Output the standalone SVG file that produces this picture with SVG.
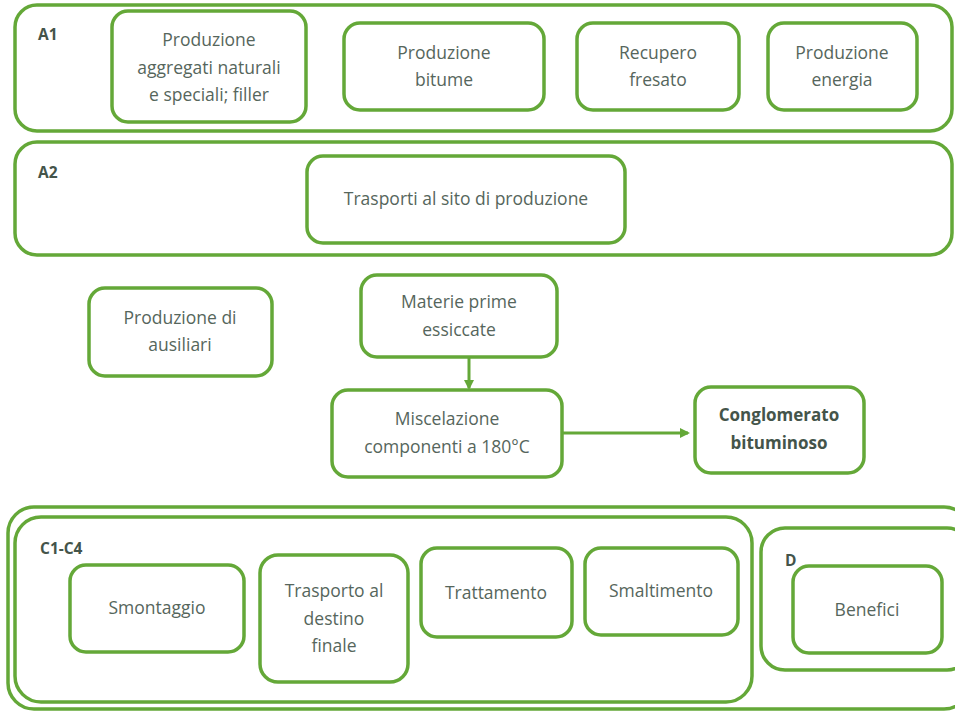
<svg xmlns="http://www.w3.org/2000/svg" width="955" height="711" viewBox="0 0 955 711">
<defs>
<style>
.box{fill:#fff;stroke:#64a838;stroke-width:3.5}
.frame{fill:none;stroke:#64a838;stroke-width:3.5}
.t{font-family:"Open Sans","Liberation Sans",Arial,sans-serif;font-size:17.5px;fill:#56665c;text-anchor:middle}
.lbl{font-family:"Open Sans","Liberation Sans",Arial,sans-serif;font-size:15.5px;font-weight:bold;fill:#44544a}
.b{font-weight:bold;fill:#44544a;font-size:17px}
.c{stroke:#64a838;stroke-width:3;fill:none}
</style>
<marker id="ah" markerWidth="10" markerHeight="10" refX="8" refY="5" orient="auto" markerUnits="userSpaceOnUse">
<path d="M0,0 L10,5 L0,10 Z" fill="#64a838"/>
</marker>
</defs>
<rect width="955" height="711" fill="#fff"/>
<g id="A1">
<rect class="frame" x="15" y="5" width="937" height="126" rx="22"/>
<text class="lbl" x="38" y="40">A1</text>
</g>
<g id="A2">
<rect class="frame" x="15" y="142" width="937" height="113" rx="22"/>
<text class="lbl" x="38" y="178">A2</text>
</g>
<g id="outerC">
<rect class="frame" x="8" y="507" width="962" height="202" rx="26"/>
</g>
<g id="C1C4">
<rect class="frame" x="15" y="517" width="737" height="185" rx="26"/>
<text class="lbl" x="40" y="554">C1-C4</text>
</g>
<g id="D">
<rect class="frame" x="761" y="528" width="210" height="142" rx="24"/>
<text class="lbl" x="785" y="566">D</text>
</g>
<g id="n1">
<rect class="box" x="112" y="11" width="194" height="111" rx="16"/>
<text class="t" x="209" y="46">Produzione</text>
<text class="t" x="209" y="74">aggregati naturali</text>
<text class="t" x="209" y="101">e speciali; filler</text>
</g>
<g id="n2">
<rect class="box" x="344" y="23" width="200" height="87" rx="16"/>
<text class="t" x="444" y="59">Produzione</text>
<text class="t" x="444" y="86">bitume</text>
</g>
<g id="n3">
<rect class="box" x="577" y="23" width="162" height="87" rx="16"/>
<text class="t" x="658" y="59">Recupero</text>
<text class="t" x="658" y="86">fresato</text>
</g>
<g id="n4">
<rect class="box" x="768" y="23" width="149" height="87" rx="16"/>
<text class="t" x="842" y="59">Produzione</text>
<text class="t" x="842" y="86">energia</text>
</g>
<g id="n5">
<rect class="box" x="307" y="156" width="318" height="87" rx="16"/>
<text class="t" x="466" y="205">Trasporti al sito di produzione</text>
</g>
<g id="n6">
<rect class="box" x="89" y="288" width="183" height="88" rx="16"/>
<text class="t" x="180" y="324">Produzione di</text>
<text class="t" x="180" y="351">ausiliari</text>
</g>
<g id="n7">
<rect class="box" x="361" y="275" width="196" height="82" rx="16"/>
<text class="t" x="459" y="308">Materie prime</text>
<text class="t" x="459" y="336">essiccate</text>
</g>
<g id="n8">
<rect class="box" x="332" y="390" width="230" height="87" rx="16"/>
<text class="t" x="447" y="425">Miscelazione</text>
<text class="t" x="447" y="453">componenti a 180°C</text>
</g>
<g id="n9">
<rect class="box" x="695" y="387" width="169" height="86" rx="16"/>
<text class="t b" x="779" y="421">Conglomerato</text>
<text class="t b" x="779" y="449">bituminoso</text>
</g>
<g id="n10">
<rect class="box" x="70" y="565" width="174" height="87" rx="16"/>
<text class="t" x="157" y="614">Smontaggio</text>
</g>
<g id="n11">
<rect class="box" x="260" y="555" width="148" height="127" rx="18"/>
<text class="t" x="334" y="597">Trasporto al</text>
<text class="t" x="334" y="625">destino</text>
<text class="t" x="334" y="652">finale</text>
</g>
<g id="n12">
<rect class="box" x="421" y="548" width="151" height="89" rx="16"/>
<text class="t" x="496" y="599">Trattamento</text>
</g>
<g id="n13">
<rect class="box" x="585" y="548" width="153" height="87" rx="16"/>
<text class="t" x="661" y="597">Smaltimento</text>
</g>
<g id="n14">
<rect class="box" x="793" y="566" width="149" height="87" rx="16"/>
<text class="t" x="867" y="616">Benefici</text>
</g>
<g id="connectors">
<line class="c" x1="469" y1="357" x2="469" y2="388" marker-end="url(#ah)"/>
<line class="c" x1="562" y1="433" x2="688" y2="433" marker-end="url(#ah)"/>
</g>
</svg>
